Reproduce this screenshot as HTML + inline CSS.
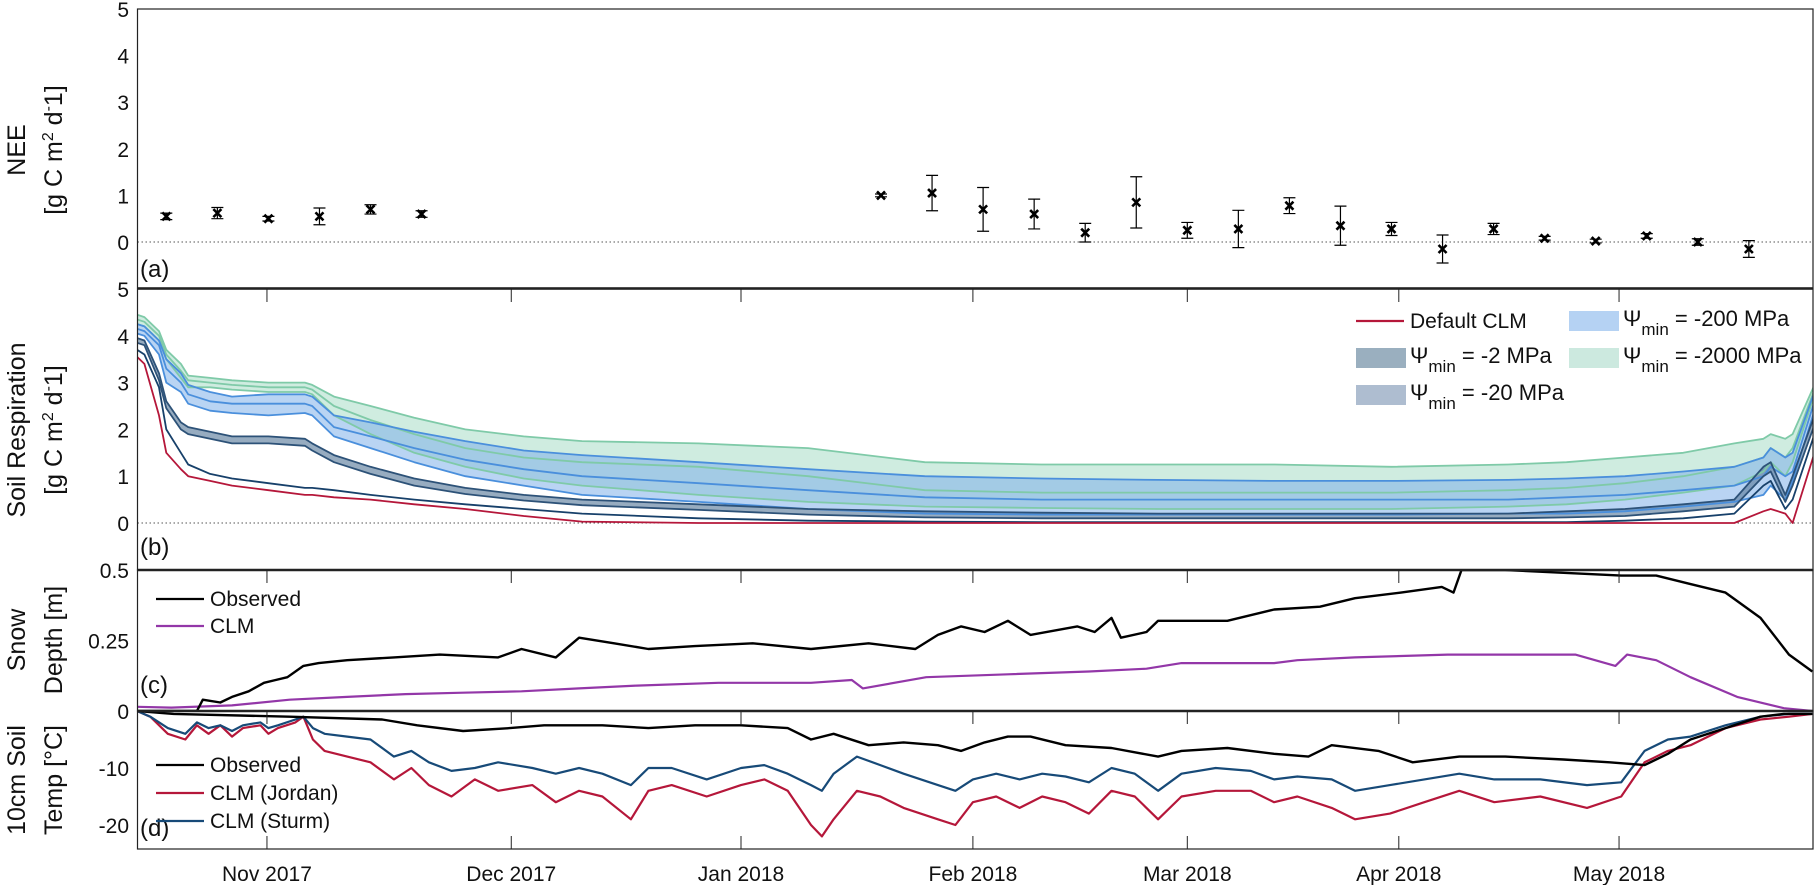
<!DOCTYPE html>
<html><head><meta charset="utf-8">
<style>
html,body{margin:0;padding:0;background:#fff;}
svg{display:block;font-family:"Liberation Sans",Arial,sans-serif;}
</style></head>
<body>
<svg id="chart" width="1816" height="885" viewBox="0 0 1816 885" xmlns="http://www.w3.org/2000/svg">
<defs>
<clipPath id="clipA"><rect x="137.5" y="9" width="1676" height="279"/></clipPath>
<clipPath id="clipB"><rect x="137.5" y="289" width="1676" height="281"/></clipPath>
<clipPath id="clipC"><rect x="137.5" y="570" width="1676" height="141"/></clipPath>
<clipPath id="clipD"><rect x="137.5" y="711" width="1676" height="138"/></clipPath>
</defs>
<g id="layers"></g>
</svg>
<script>
// ---------- data ----------
// days relative to Nov 1 2017 (axis reference)
const monthLabels = ["Nov 2017","Dec 2017","Jan 2018","Feb 2018","Mar 2018","Apr 2018","May 2018"];
const monthDays = [-2.2,31.3,62.8,94.6,124,153,183.2];

const neeDays = [-16,-9,-2,5,12,19,82,89,96,103,110,117,124,131,138,145,152,159,166,173,180,187,194,201];
const neeVals = [0.55,0.62,0.5,0.55,0.7,0.6,1.0,1.05,0.7,0.6,0.2,0.85,0.25,0.28,0.78,0.35,0.28,-0.15,0.28,0.08,0.02,0.13,0.0,-0.15];
const neeErr  = [0.07,0.12,0.05,0.18,0.1,0.07,0.03,0.38,0.47,0.32,0.2,0.55,0.17,0.4,0.17,0.42,0.14,0.3,0.12,0.04,0.04,0.05,0.07,0.18];

const srDays = [-20,-19,-17,-16,-14,-13,-10,-7,-2,3,4,7,12,18,25,33,41,57,72,88,104,120,136,152,168,176,184,192,199,203,204,206,207,210];
const srDefault = [3.55,3.4,2.3,1.5,1.15,1.0,0.9,0.8,0.7,0.6,0.6,0.55,0.5,0.4,0.3,0.15,0.03,0,0,0,0,0,0,0,0,0,0,0,0,0.25,0.3,0.2,0.0,1.5];
const srNavy = [3.7,3.6,2.9,2.0,1.5,1.25,1.05,0.95,0.85,0.75,0.75,0.7,0.6,0.5,0.4,0.3,0.2,0.1,0.05,0.03,0.02,0.02,0.02,0.02,0.02,0.02,0.05,0.1,0.2,0.8,0.9,0.3,0.5,1.9];
const sr2Hi = [3.95,3.9,3.2,2.6,2.15,2.05,1.95,1.85,1.85,1.8,1.7,1.45,1.2,0.95,0.75,0.6,0.5,0.4,0.3,0.25,0.22,0.2,0.2,0.2,0.2,0.25,0.3,0.4,0.5,1.2,1.3,0.6,1.0,2.3];
const sr2Lo = [3.85,3.8,3.05,2.45,2.0,1.9,1.8,1.7,1.7,1.65,1.55,1.3,1.05,0.8,0.62,0.48,0.38,0.28,0.18,0.12,0.1,0.1,0.1,0.1,0.1,0.12,0.15,0.25,0.35,1.0,1.1,0.45,0.8,2.1];
const sr200Hi = [4.25,4.2,3.9,3.5,3.2,2.95,2.8,2.7,2.75,2.75,2.7,2.3,2.15,1.95,1.75,1.55,1.45,1.3,1.15,1.0,0.95,0.92,0.9,0.9,0.92,0.95,1.0,1.1,1.2,1.4,1.6,1.4,1.5,2.8];
const sr200Mid = [4.15,4.1,3.8,3.3,3.0,2.75,2.6,2.55,2.55,2.55,2.5,2.05,1.85,1.6,1.35,1.15,1.0,0.85,0.7,0.55,0.5,0.5,0.5,0.5,0.5,0.55,0.6,0.7,0.8,1.0,1.2,1.0,1.1,2.6];
const sr200Lo = [4.05,4.0,3.6,3.0,2.8,2.55,2.4,2.35,2.3,2.35,2.3,1.85,1.6,1.3,1.0,0.8,0.6,0.45,0.3,0.2,0.18,0.18,0.18,0.18,0.2,0.2,0.25,0.35,0.45,0.6,0.8,0.5,0.9,2.4];
const sr2000Hi = [4.45,4.4,4.1,3.7,3.4,3.15,3.1,3.05,3.0,3.0,2.95,2.7,2.5,2.25,2.0,1.85,1.75,1.7,1.6,1.3,1.25,1.25,1.25,1.2,1.25,1.3,1.4,1.5,1.7,1.8,1.9,1.8,1.9,2.95];
const sr2000Mid = [4.35,4.3,4.0,3.6,3.25,3.05,3.0,2.95,2.9,2.9,2.85,2.5,2.2,1.9,1.6,1.4,1.3,1.2,1.0,0.7,0.65,0.65,0.65,0.65,0.7,0.75,0.85,1.0,1.2,1.4,1.6,1.4,1.6,2.85];
const sr2000Lo = [4.25,4.2,3.9,3.5,3.1,2.9,2.9,2.85,2.8,2.8,2.75,2.3,1.9,1.5,1.2,0.95,0.8,0.6,0.45,0.35,0.32,0.3,0.3,0.3,0.35,0.4,0.5,0.65,0.8,1.1,1.3,1.0,1.3,2.75];

const snowObsDays = [-20,-15,-11.8,-11,-8.6,-7,-4.7,-2.6,-1,0.6,2.8,4.9,8.8,15.2,21.5,29.5,32.7,37.4,40.6,45.4,50.1,56.5,64.4,72.4,80.3,86.7,89.8,93,96.2,99.4,102.5,108.9,111.3,113.6,114.9,118.4,120,129.5,135.9,142.2,147,153.3,158.9,160.5,161.6,167.6,175.6,183.5,188.3,193,197.8,202.6,206.5,209.7];
const snowObs = [0,0,0,0.04,0.03,0.05,0.07,0.1,0.11,0.12,0.16,0.17,0.18,0.19,0.2,0.19,0.22,0.19,0.26,0.24,0.22,0.23,0.24,0.22,0.24,0.22,0.27,0.3,0.28,0.32,0.27,0.3,0.28,0.33,0.26,0.28,0.32,0.32,0.36,0.37,0.40,0.42,0.44,0.42,0.50,0.50,0.49,0.48,0.48,0.45,0.42,0.33,0.2,0.14];
const snowClmDays = [-20,-15.3,-7,0.9,8.8,16.8,24.7,32.7,40.6,48.5,59.7,72.4,78,79.5,88.2,99.4,110.5,118.4,123.2,135.9,139.1,147,159.7,177.2,182.7,184.3,188.3,193,199.4,205.8,209.7];
const snowClm = [0.015,0.012,0.02,0.04,0.05,0.06,0.065,0.07,0.08,0.09,0.1,0.1,0.11,0.08,0.12,0.13,0.14,0.15,0.17,0.17,0.18,0.19,0.2,0.2,0.16,0.2,0.18,0.12,0.05,0.01,0.0];

const tObsDays = [-20.1,-15,0.9,13.6,18.4,24.7,31.1,35.8,43.8,50.1,56.5,62.8,69.2,72.4,75.5,80.3,85.1,89.8,93,96.2,99.4,102.5,107.3,113.6,120,123.2,129.5,135.9,140.6,143.8,150.2,154.9,161.3,167.6,175.6,181.9,186.7,189.9,193,197.8,202.6,205.8,209.7];
const tObs = [0,-0.5,-1,-1.5,-2.5,-3.5,-3,-2.5,-2.5,-3,-2.5,-2.5,-3,-5,-4,-6,-5.5,-6,-7,-5.5,-4.5,-4.5,-6,-6.5,-8,-7,-6.5,-7.5,-8,-6,-7,-9,-8,-8,-8.5,-9,-9.5,-7.5,-5,-3,-1,-0.5,-0.5];
const tClmDays = [-20,-18.2,-15.8,-13.4,-11.8,-10.2,-8.6,-7,-5.5,-3.1,-2,-0.7,1.7,2.8,4.1,5.7,8.8,12,15.2,17.6,20,23.1,26.3,29.5,34.2,37.4,40.6,43.8,47.7,50.1,53.3,58.1,62.8,66,69.2,72.4,73.9,75.5,78.7,81.9,85.1,89.8,92.2,94.6,97.8,101,104.1,107.3,110.5,113.6,116.8,120,123.2,127.9,132.7,135.9,139.1,143.8,147,151.8,156.5,161.3,166.1,172.4,178.8,183.5,186.7,189.9,193,197.8,202.6,206.5,209.7];
const tJordan = [0,-1,-4,-5,-2.5,-4,-2.5,-4.5,-3,-2.5,-4,-3,-2,-1,-5,-7,-8,-9,-12,-10,-13,-15,-12,-14,-13,-16,-14,-15,-19,-14,-13,-15,-13,-12,-14,-20,-22,-19,-14,-15,-17,-19,-20,-16,-15,-17,-15,-16,-18,-14,-15,-19,-15,-14,-14,-16,-15,-17,-19,-18,-16,-14,-16,-15,-17,-15,-9,-7,-6,-3,-1.5,-1,-0.5];
const tSturm = [0,-1,-3,-4,-2,-3,-2.5,-3.5,-2.5,-2,-3,-2.5,-1.5,-1,-3,-4,-4.5,-5,-8,-7,-9,-10.5,-10,-9,-10,-11,-10,-11,-13,-10,-10,-12,-10,-9.5,-11,-13,-14,-11,-8,-9.5,-11,-13,-14,-12,-11,-12,-11,-11.5,-12.5,-10,-11,-14,-11,-10,-10.5,-12,-11.5,-12,-14,-13,-12,-11,-12,-12,-13,-12.5,-7,-5,-4.5,-2.5,-1,-0.5,-0.5];

// ---------- axes ----------
const X0 = 283, PXD = 7.2928, LEFT = 137.5, RIGHT = 1813;
const xs = d => X0 + d * PXD;
const yA = v => 242 - v * 46.6;
const yB = v => 523 - v * 46.8;
const yC = v => 711 - v * 282;
const yD = v => 711 - v * 5.7;

const NS = "http://www.w3.org/2000/svg";
const root = document.getElementById("layers");
function mk(tag, attrs, parent) {
  const e = document.createElementNS(NS, tag);
  for (const k in attrs) e.setAttribute(k, attrs[k]);
  (parent || root).appendChild(e);
  return e;
}
function linePts(days, vals, yf) {
  return days.map((d, i) => xs(d).toFixed(1) + "," + yf(vals[i]).toFixed(1)).join(" ");
}
function bandPts(days, hi, lo, yf) {
  const a = days.map((d, i) => xs(d).toFixed(1) + "," + yf(hi[i]).toFixed(1));
  const b = days.map((d, i) => xs(d).toFixed(1) + "," + yf(lo[i]).toFixed(1)).reverse();
  return a.concat(b).join(" ");
}

// ---------- panel A ----------
const gA = mk("g", {"clip-path": "url(#clipA)"});


const zA = mk("line", {x1: LEFT, x2: RIGHT, y1: yA(0), y2: yA(0), stroke: "#555", "stroke-width": 1, "stroke-dasharray": "1.5,2.5"}, gA);


neeDays.forEach((d, i) => {
  const g = mk("g", {}, gA);
  
  
  const x = xs(d), y = yA(neeVals[i]), yt = yA(neeVals[i] + neeErr[i]), yb = yA(neeVals[i] - neeErr[i]);
  mk("path", {d: `M${x},${yt}V${yb}M${x-6},${yt}H${x+6}M${x-6},${yb}H${x+6}`, stroke: "#000", "stroke-width": 1.2, fill: "none"}, g);
  mk("path", {d: `M${x-4},${y-4}L${x+4},${y+4}M${x-4},${y+4}L${x+4},${y-4}`, stroke: "#000", "stroke-width": 2.6, fill: "none"}, g);
});

// ---------- panel B ----------
const gB = mk("g", {"clip-path": "url(#clipB)"});


const zB = mk("line", {x1: LEFT, x2: RIGHT, y1: yB(0), y2: yB(0), stroke: "#555", "stroke-width": 1, "stroke-dasharray": "1.5,2.5"}, gB);


const b2000 = mk("polygon", {points: bandPts(srDays, sr2000Hi, sr2000Lo, yB), fill: "#a8dcc6", "fill-opacity": 0.55, stroke: "none"}, gB);


const b200 = mk("polygon", {points: bandPts(srDays, sr200Hi, sr200Lo, yB), fill: "#7fb0ea", "fill-opacity": 0.55, stroke: "none"}, gB);


const b2 = mk("polygon", {points: bandPts(srDays, sr2Hi, sr2Lo, yB), fill: "#5f7f9e", "fill-opacity": 0.65, stroke: "none"}, gB);


const srLines = [
  [sr2000Hi, "#7fcaa8", 'psi-2000-upper'], [sr2000Mid, "#7fcaa8", 'psi-2000-mid'], [sr2000Lo, "#7fcaa8", 'psi-2000-lower'],
  [sr200Hi, "#4a8fdc", 'psi-200-upper'], [sr200Mid, "#4a8fdc", 'psi-200-mid'], [sr200Lo, "#4a8fdc", 'psi-200-lower'],
  [sr2Hi, "#2d5278", 'psi-2-upper'], [sr2Lo, "#2d5278", 'psi-2-lower'],
  [srNavy, "#17406a", 'psi-20-line'], [srDefault, "#b5173a", 'default-clm-line']
];
srLines.forEach(s => {
  const p = mk("polyline", {points: linePts(srDays, s[0], yB), fill: "none", stroke: s[1], "stroke-width": 1.8, "stroke-linejoin": "round"}, gB);
  
  
});

// ---------- panel C ----------
const gC = mk("g", {"clip-path": "url(#clipC)"});


const sc = mk("polyline", {points: linePts(snowClmDays, snowClm, yC), fill: "none", stroke: "#9337a8", "stroke-width": 2.2, "stroke-linejoin": "round"}, gC);


const so = mk("polyline", {points: linePts(snowObsDays, snowObs, yC), fill: "none", stroke: "#000", "stroke-width": 2.4, "stroke-linejoin": "round"}, gC);



// ---------- panel D ----------
const gD = mk("g", {"clip-path": "url(#clipD)"});


const tj = mk("polyline", {points: linePts(tClmDays, tJordan, yD), fill: "none", stroke: "#b5173a", "stroke-width": 2.2, "stroke-linejoin": "round"}, gD);


const ts = mk("polyline", {points: linePts(tClmDays, tSturm, yD), fill: "none", stroke: "#174a78", "stroke-width": 2.2, "stroke-linejoin": "round"}, gD);


const to = mk("polyline", {points: linePts(tObsDays, tObs, yD), fill: "none", stroke: "#000", "stroke-width": 2.4, "stroke-linejoin": "round"}, gD);



// ---------- frames & ticks ----------
const panels = [[9, 288], [289, 570], [570, 711], [711, 849]];
panels.forEach((p, pi) => {
  const r = mk("rect", {x: LEFT, y: p[0], width: RIGHT - LEFT, height: p[1] - p[0], fill: "none", stroke: "#222", "stroke-width": 1.2});
  
  
  monthDays.forEach(d => {
    const x = xs(d);
    if (x > RIGHT) return;
    if (pi > 0) {
      const t = mk("line", {x1: x, x2: x, y1: p[0], y2: p[0] + 13, stroke: "#222", "stroke-width": 1});
      
      
    }
  });
});
monthDays.forEach(d => {
  const x = xs(d);
  if (x > RIGHT) return;
  const t = mk("line", {x1: x, x2: x, y1: 849, y2: 836, stroke: "#222", "stroke-width": 1});
  
  
});
[288.5, 570, 711].forEach(y => {
  const l = mk("line", {x1: LEFT, x2: RIGHT, y1: y, y2: y, stroke: "#222", "stroke-width": 2.4});
  
  
});

function text(str, x, y, attrs, name) {
  const t = mk("text", Object.assign({x: x, y: y, "font-size": 21, fill: "#111"}, attrs || {}));
  t.textContent = str;
  
  
  return t;
}
monthLabels.forEach((lab, i) => {
  const x = xs(monthDays[i]);
  if (x > RIGHT + 40) return;
  text(lab, x, 881, {"text-anchor": "middle"}, 'x-tick-label');
});
const aTicks = [0,1,2,3,4,5];
aTicks.forEach(v => text(String(v), 129, yA(v) + 8, {"text-anchor": "end"}, 'y-tick-label-a'));
const bTicks = [0,1,2,3,4,5];
bTicks.forEach(v => text(String(v), 129, yB(v) + 8, {"text-anchor": "end"}, 'y-tick-label-b'));
const cTicks = [0, 0.25, 0.5];
cTicks.forEach(v => text(String(v), 129, yC(v) + 8, {"text-anchor": "end"}, 'y-tick-label-c'));
const dTicks = [-10, -20];
dTicks.forEach(v => text(String(v), 129, yD(v) + 8, {"text-anchor": "end"}, 'y-tick-label-d'));

text("(a)", 140, 277, {"font-size": 24}, 'panel-label-a');
text("(b)", 140, 555, {"font-size": 24}, 'panel-label-b');
text("(c)", 140, 693, {"font-size": 24}, 'panel-label-c');
text("(d)", 140, 836, {"font-size": 24}, 'panel-label-d');

function vtitle(str, x, y, name, html) {
  const t = mk("text", {x: 0, y: 0, "font-size": 25, fill: "#111", "text-anchor": "middle", transform: `translate(${x},${y}) rotate(-90)`});
  if (html) { t.innerHTML = html; } else { t.textContent = str; }
  
  
}
const unitHTML = '[g C m<tspan dy="-9" font-size="16">2</tspan><tspan dy="9"> d</tspan><tspan dy="-9" font-size="16">-</tspan><tspan dy="9">1]</tspan>';
vtitle("NEE", 25, 150, 'y-title-nee');
vtitle("", 62, 150, 'y-title-nee-units', unitHTML);
vtitle("Soil Respiration", 25, 430, 'y-title-sr');
vtitle("", 62, 430, 'y-title-sr-units', unitHTML);
vtitle("Snow", 25, 640, 'y-title-snow');
vtitle("Depth [m]", 62, 640, 'y-title-snow-2');
vtitle("10cm Soil", 25, 780, 'y-title-temp');
vtitle("Temp [°C]", 62, 780, 'y-title-temp-2');

// ---------- legends ----------
function legLine(x, y, color, label, name) {
  const g = mk("g", {});
  
  
  mk("line", {x1: x, x2: x + 48, y1: y, y2: y, stroke: color, "stroke-width": 2.2}, g);
  const t = mk("text", {x: x + 54, y: y + 7, "font-size": 21, fill: "#111"}, g);
  t.textContent = label;
}
function legBox(x, y, fill, label, name) {
  const g = mk("g", {});
  
  
  mk("rect", {x: x, y: y - 10, width: 50, height: 20, fill: fill}, g);
  const t = mk("text", {x: x + 54, y: y + 5, "font-size": 22, fill: "#111"}, g);
  t.innerHTML = 'Ψ<tspan dy="9" font-size="17">min</tspan><tspan dy="-9"> = ' + label + '</tspan>';
}
legLine(1356, 321, "#b5173a", "Default CLM", 'legend-default-clm');
legBox(1356, 358, "#9aafbf", "-2 MPa", 'legend-psi-2');
legBox(1356, 395, "#aebdd0", "-20 MPa", 'legend-psi-20');
legBox(1569, 321, "#b5d2f3", "-200 MPa", 'legend-psi-200');
legBox(1569, 358, "#cce9df", "-2000 MPa", 'legend-psi-2000');

legLine(156, 599, "#000", "Observed", 'legend-snow-observed');
legLine(156, 626, "#9337a8", "CLM", 'legend-snow-clm');
legLine(156, 765, "#000", "Observed", 'legend-temp-observed');
legLine(156, 793, "#b5173a", "CLM (Jordan)", 'legend-temp-jordan');
legLine(156, 821, "#174a78", "CLM (Sturm)", 'legend-temp-sturm');
</script>
</body></html>
